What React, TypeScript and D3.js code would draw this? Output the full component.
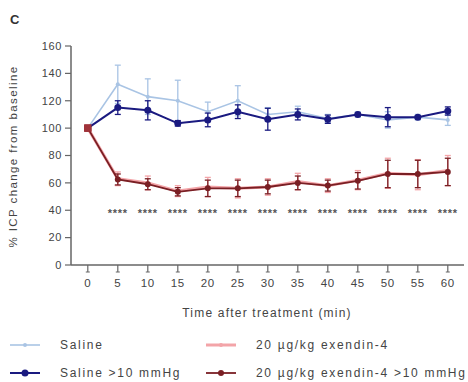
import React from 'react';
import * as d3 from "d3";

const width = 468;
const height = 382;

const times = [0, 5, 10, 15, 20, 25, 30, 35, 40, 45, 50, 55, 60];
const xTicks = times;
const yTicks = [0, 20, 40, 60, 80, 100, 120, 140, 160];

const saline = [100, 132, 123, 120, 112, 120, 110, 112, 107, 110, 106, 108, 106];
const salineErr = [0, 14, 13, 15, 7, 11, 5, 4, 3, 2, 6, 2, 4];

const salineHigh = [100, 115, 113, 103.5, 106, 112, 106.5, 110, 106.5, 110, 108, 108, 112.5];
const salineHighErr = [0, 5, 7, 2, 5, 5, 8, 4, 3, 1, 7, 1, 3];

const exendin = [100, 63, 60, 54, 57, 56, 57, 61, 58, 62, 67, 66, 69];
const exendinErr = [0, 5, 5, 4, 7, 7, 6, 6, 5, 7, 11, 11, 11];

const exendinHigh = [100, 62.5, 59, 53.5, 56, 56, 57, 60, 58, 61.5, 66.5, 66.5, 68];
const exendinHighErr = [0, 4, 4, 3, 6, 6, 5, 5, 4, 6, 10, 10, 10];

const starTimes = [5, 10, 15, 20, 25, 30, 35, 40, 45, 50, 55, 60];

const x = d3.scaleLinear().domain([-2.8, 62.7]).range([71, 464]);
const y = d3.scaleLinear().domain([0, 160]).range([265, 46]);

const font = "Liberation Sans, Arial, sans-serif";
const textColor = "#444";
const axisColor = "#666";

const series = [
  { name: "Saline", values: saline, err: salineErr, color: "#a9c4e4", r: 2, width: 1.6, lx: 10, ly: 345 },
  { name: "20 \u00b5g/kg exendin-4", values: exendin, err: exendinErr, color: "#f3a4a8", r: 2, width: 3, lx: 206, ly: 345 },
  { name: "Saline >10 mmHg", values: salineHigh, err: salineHighErr, color: "#1a1a80", r: 3.5, width: 2, lx: 10, ly: 373 },
  { name: "20 \u00b5g/kg exendin-4 >10 mmHg", values: exendinHigh, err: exendinHighErr, color: "#7a1f24", r: 3, width: 1.8, lx: 206, ly: 373 },
];

const line = d3.line<number>()
  .x((d, i) => x(times[i]))
  .y(d => y(d));

const App = () => {
  return (
    <svg width={width} height={height} style={{ position: "absolute", left: 0, top: 0 }}>
      <rect width={width} height={height} fill="white" />
      <text x={10} y={24} fontFamily={font} fontWeight="bold" fontSize={13} fill="#333">C</text>

      {/* y axis */}
      <line x1={71} x2={71} y1={y(160)} y2={y(0)} stroke={axisColor} strokeWidth={1.5} />
      {yTicks.map(t => (
        <g key={t}>
          <line x1={65} x2={71} y1={y(t)} y2={y(t)} stroke={axisColor} strokeWidth={1.2} />
          <text x={62} y={y(t)} dy="0.35em" textAnchor="end" fontFamily={font} fontSize={11}
            letterSpacing={0.6} fill={textColor}>{t}</text>
        </g>
      ))}
      <text transform={`translate(17,${(y(160) + y(0)) / 2 + 1}) rotate(-90)`} textAnchor="middle"
        fontFamily={font} fontSize={11.5} letterSpacing={1.4} fill={textColor}>% ICP change from baseline</text>

      {/* x axis */}
      <line x1={71} x2={464} y1={y(0)} y2={y(0)} stroke={axisColor} strokeWidth={1.5} />
      {xTicks.map(t => (
        <g key={t}>
          <line x1={x(t)} x2={x(t)} y1={y(0)} y2={y(0) + 7} stroke={axisColor} strokeWidth={1.2} />
          <line x1={x(t) - 2} x2={x(t) + 2} y1={y(0) + 7} y2={y(0) + 7} stroke={axisColor} strokeWidth={1} />
          <text x={x(t)} y={y(0) + 22} textAnchor="middle" fontFamily={font} fontSize={11.5}
            letterSpacing={0.6} fill={textColor}>{t}</text>
        </g>
      ))}
      <text x={267} y={317} textAnchor="middle" fontFamily={font} fontSize={12}
        letterSpacing={1.2} fill={textColor}>Time after treatment (min)</text>

      {/* series */}
      {series.map(s => (
        <g key={s.name}>
          <path d={line(s.values) || ""} fill="none" stroke={s.color} strokeWidth={s.width} />
          {s.values.map((v, i) => s.err[i] > 0 && (
            <g key={i} stroke={s.color} strokeWidth={1.3}>
              <line x1={x(times[i])} x2={x(times[i])} y1={y(v + s.err[i])} y2={y(v - s.err[i])} />
              <line x1={x(times[i]) - 3} x2={x(times[i]) + 3} y1={y(v + s.err[i])} y2={y(v + s.err[i])} />
              <line x1={x(times[i]) - 3} x2={x(times[i]) + 3} y1={y(v - s.err[i])} y2={y(v - s.err[i])} />
            </g>
          ))}
          {s.values.map((v, i) => i === 0 ? (
            <rect key={i} x={x(times[i]) - 3.5} y={y(v) - 3.5} width={7} height={7} fill="#a0333a" />
          ) : (
            <circle key={i} cx={x(times[i])} cy={y(v)} r={s.r} fill={s.color} />
          ))}
        </g>
      ))}

      {/* significance */}
      {starTimes.map(t => (
        <text key={t} x={x(t)} y={y(39) + 5} textAnchor="middle" fontFamily={font} fontSize={11}
          fontWeight="bold" letterSpacing={0.8} fill="#555">****</text>
      ))}

      {/* legend */}
      {series.map(s => (
        <g key={s.name}>
          <line x1={s.lx} x2={s.lx + 30} y1={s.ly} y2={s.ly} stroke={s.color} strokeWidth={s.width} />
          <circle cx={s.lx + 15} cy={s.ly} r={s.r} fill={s.color} />
          <text x={s.lx + 50} y={s.ly} dy="0.35em" fontFamily={font} fontSize={12}
            letterSpacing={1.7} fill={textColor}>{s.name}</text>
        </g>
      ))}
    </svg>
  );
};

export default App;
